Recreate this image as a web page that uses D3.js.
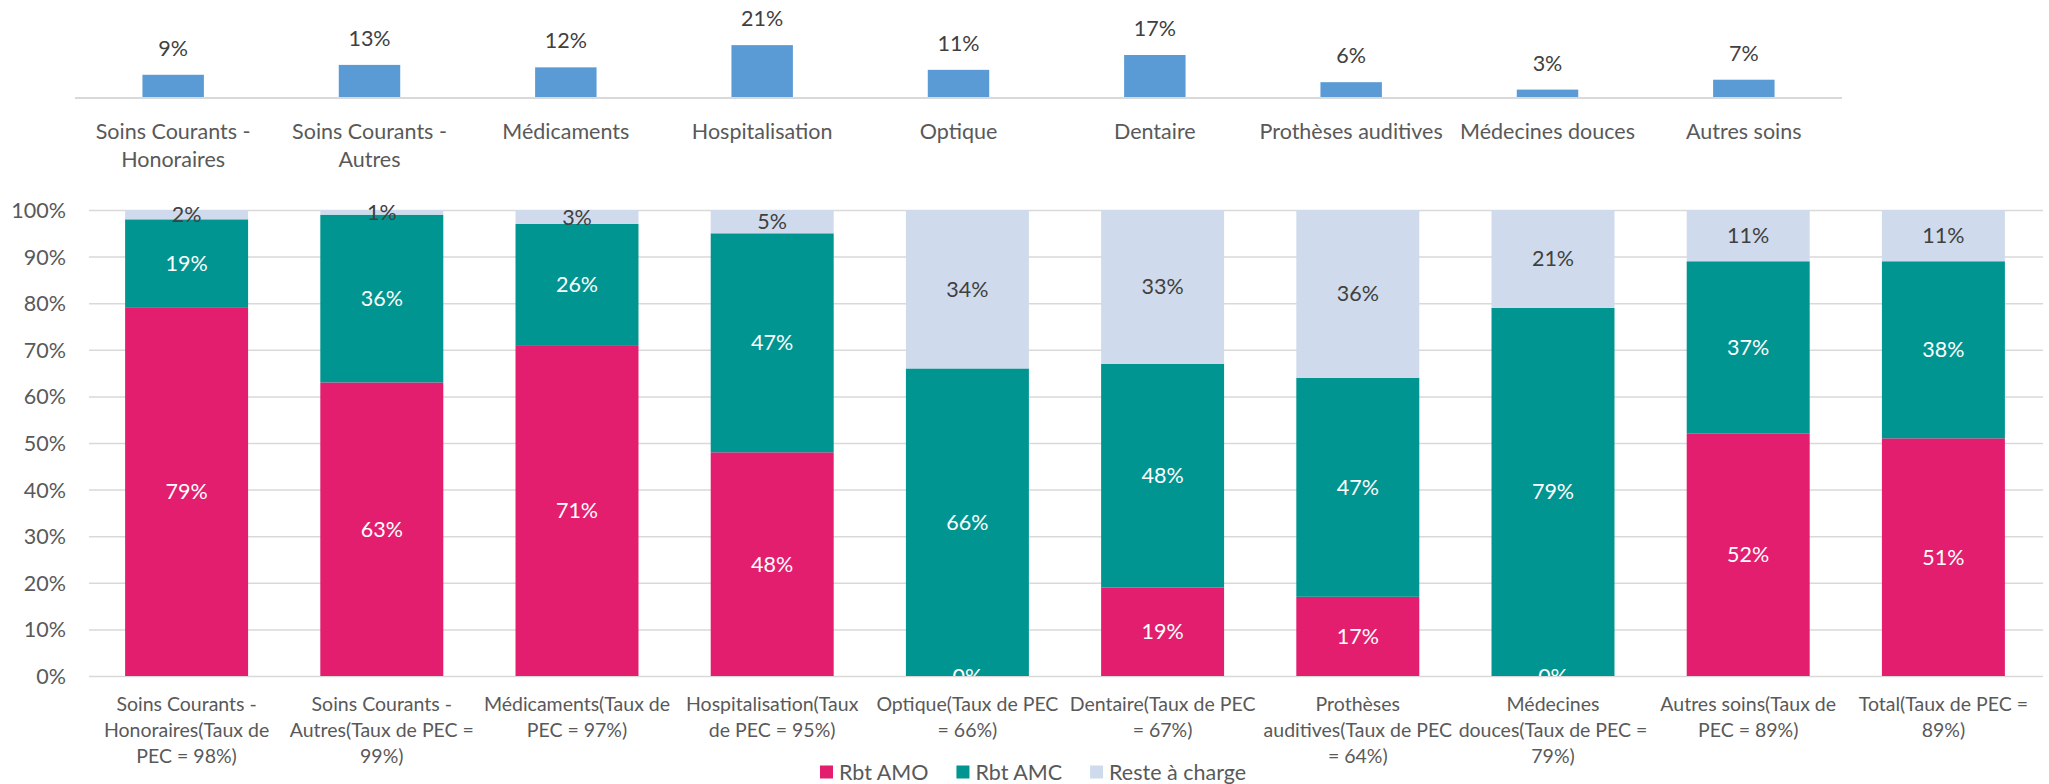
<!DOCTYPE html>
<html>
<head>
<meta charset="utf-8">
<script src="https://cdn.jsdelivr.net/npm/d3@7"></script>
<style>
  body { margin: 0; background: #fff; }
  svg { display: block; font-family: Lato, "Open Sans", sans-serif; }
</style>
</head>
<body>
<svg width="2049" height="784"></svg>
<script>
// top chart: share of each post
const topCategories = [
  ['Soins Courants -', 'Honoraires'],
  ['Soins Courants -', 'Autres'],
  ['Médicaments'],
  ['Hospitalisation'],
  ['Optique'],
  ['Dentaire'],
  ['Prothèses auditives'],
  ['Médecines douces'],
  ['Autres soins']
];
const topShares = [9, 13, 12, 21, 11, 17, 6, 3, 7];

// bottom chart: split of reimbursements
const categories = [
  ['Soins Courants -', 'Honoraires(Taux de', 'PEC = 98%)'],
  ['Soins Courants -', 'Autres(Taux de PEC =', '99%)'],
  ['Médicaments(Taux de', 'PEC = 97%)'],
  ['Hospitalisation(Taux', 'de PEC = 95%)'],
  ['Optique(Taux de PEC', '= 66%)'],
  ['Dentaire(Taux de PEC', '= 67%)'],
  ['Prothèses', 'auditives(Taux de PEC', '= 64%)'],
  ['Médecines', 'douces(Taux de PEC =', '79%)'],
  ['Autres soins(Taux de', 'PEC = 89%)'],
  ['Total(Taux de PEC =', '89%)']
];
const rbtAMO = [79, 63, 71, 48, 0, 19, 17, 0, 52, 51];
const rbtAMC = [19, 36, 26, 47, 66, 48, 47, 79, 37, 38];
const resteACharge = [2, 1, 3, 5, 34, 33, 36, 21, 11, 11];
const seriesNames = ['Rbt AMO', 'Rbt AMC', 'Reste à charge'];
const yTicks = [0, 10, 20, 30, 40, 50, 60, 70, 80, 90, 100];

const colors = ['#E31E6F', '#009591', '#CFDBEC'];
const labelColors = ['#ffffff', '#ffffff', '#404040'];
const gridColor = '#d9d9d9';
const axisText = '#595959';
const fs = 21.5;

const svg = d3.select('svg');

// ---------- top chart ----------
const xTop = d3.scaleBand()
  .domain(d3.range(topShares.length))
  .range([75, 1842])
  .paddingInner(0.687)
  .paddingOuter(0.3435);
const yTop = d3.scaleLinear().domain([0, 25]).range([97, 35.25]);

svg.append('line')
  .attr('x1', 75).attr('x2', 1842)
  .attr('y1', yTop(0) + 1).attr('y2', yTop(0) + 1)
  .attr('stroke', gridColor).attr('stroke-width', 2);

svg.append('g').selectAll('rect')
  .data(topShares)
  .join('rect')
    .attr('x', (d, i) => xTop(i))
    .attr('width', xTop.bandwidth())
    .attr('y', d => yTop(d))
    .attr('height', d => yTop(0) - yTop(d))
    .attr('fill', '#5B9BD5');

svg.append('g').selectAll('text')
  .data(topShares)
  .join('text')
    .attr('x', (d, i) => xTop(i) + xTop.bandwidth() / 2)
    .attr('y', d => yTop(d) - 19)
    .attr('text-anchor', 'middle')
    .attr('font-size', fs)
    .attr('fill', '#404040')
    .text(d => d + '%');

const topLab = svg.append('g').selectAll('text')
  .data(topCategories)
  .join('text')
    .attr('x', (d, i) => xTop(i) + xTop.bandwidth() / 2)
    .attr('y', 138.5)
    .attr('text-anchor', 'middle')
    .attr('font-size', fs)
    .attr('fill', axisText);
topLab.selectAll('tspan')
  .data(d => d)
  .join('tspan')
    .attr('x', function () { return this.parentNode.getAttribute('x'); })
    .attr('dy', (d, j) => j === 0 ? 0 : 28)
    .text(d => d);

// ---------- bottom chart ----------
const x = d3.scaleBand()
  .domain(d3.range(categories.length))
  .range([89, 2041])
  .paddingInner(0.37)
  .paddingOuter(0.185);
const y = d3.scaleLinear().domain([0, 100]).range([676, 210]);

const grid = svg.append('g')
  .attr('transform', 'translate(89,0)')
  .call(d3.axisLeft(y).tickValues(yTicks).tickSize(-1954).tickFormat(d => d + '%'));
grid.select('.domain').remove();
grid.selectAll('.tick line').attr('stroke', gridColor).attr('stroke-width', 1.5);
grid.selectAll('.tick text')
  .attr('x', -23)
  .attr('dy', '0.35em')
  .attr('font-family', 'Lato, "Open Sans", sans-serif')
  .attr('font-size', fs)
  .attr('fill', axisText);

const rows = categories.map((c, i) => ({
  i, 'Rbt AMO': rbtAMO[i], 'Rbt AMC': rbtAMC[i], 'Reste à charge': resteACharge[i]
}));
const stacked = d3.stack().keys(seriesNames)(rows);

svg.append('defs').append('clipPath').attr('id', 'plot')
  .append('rect').attr('x', 89).attr('y', 150).attr('width', 1960).attr('height', 526);

const layers = svg.append('g').selectAll('g')
  .data(stacked)
  .join('g')
    .attr('fill', (d, k) => colors[k]);

layers.selectAll('rect')
  .data(d => d)
  .join('rect')
    .attr('x', d => x(d.data.i))
    .attr('width', x.bandwidth())
    .attr('y', d => y(d[1]))
    .attr('height', d => y(d[0]) - y(d[1]));

const labels = svg.append('g').attr('clip-path', 'url(#plot)').selectAll('g')
  .data(stacked)
  .join('g')
    .attr('fill', (d, k) => labelColors[k]);

labels.selectAll('text')
  .data(d => d)
  .join('text')
    .attr('x', d => x(d.data.i) + x.bandwidth() / 2)
    .attr('y', d => y((d[0] + d[1]) / 2))
    .attr('dy', '0.35em')
    .attr('text-anchor', 'middle')
    .attr('font-size', fs)
    .text(d => Math.round(d[1] - d[0]) + '%');

const botLab = svg.append('g').selectAll('text')
  .data(categories)
  .join('text')
    .attr('x', (d, i) => x(i) + x.bandwidth() / 2)
    .attr('y', 711)
    .attr('text-anchor', 'middle')
    .attr('font-size', 19.5)
    .attr('fill', axisText);
botLab.selectAll('tspan')
  .data(d => d)
  .join('tspan')
    .attr('x', function () { return this.parentNode.getAttribute('x'); })
    .attr('dy', (d, j) => j === 0 ? 0 : 26)
    .text(d => d);

// ---------- legend ----------
const legend = svg.append('g');
let lx = 820;
seriesNames.forEach((name, k) => {
  const g = legend.append('g').attr('transform', `translate(${lx},0)`);
  g.append('rect').attr('x', 0).attr('y', 765.5).attr('width', 13).attr('height', 13).attr('fill', colors[k]);
  const t = g.append('text')
    .attr('x', 19).attr('y', 772).attr('dy', '0.35em')
    .attr('font-size', fs).attr('fill', axisText)
    .text(name);
  lx += 19 + t.node().getComputedTextLength() + 28;
});
</script>
</body>
</html>
